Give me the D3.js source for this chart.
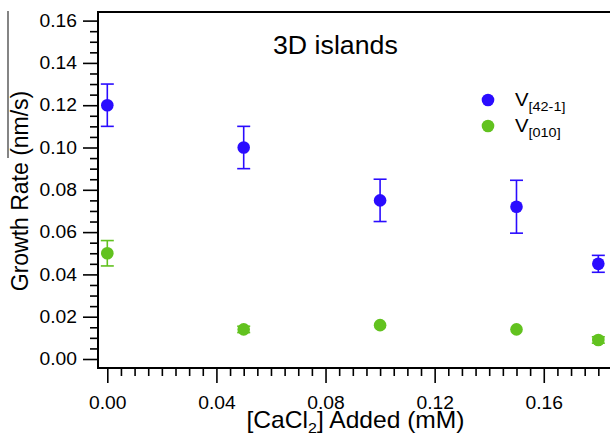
<!DOCTYPE html>
<html>
<head>
<meta charset="utf-8">
<script src="https://cdn.jsdelivr.net/npm/d3@7"></script>
<style>
  body { margin: 0; background: #fff; }
  svg { display: block; }
  text { font-family: "Liberation Sans", Arial, Helvetica, sans-serif; fill: #000; }
</style>
</head>
<body>
<svg id="chart" width="610" height="440"></svg>
<script>
// CaCl2 added (mM)
const concentrations = [0, 0.05, 0.10, 0.15, 0.18];
// growth rate along [42-1] (nm/s) and its error
const rate421 = [0.120, 0.100, 0.075, 0.072, 0.045];
const err421  = [0.010, 0.010, 0.010, 0.0125, 0.004];
// growth rate along [010] (nm/s) and its error
const rate010 = [0.050, 0.014, 0.016, 0.014, 0.009];
const err010  = [0.006, 0.0015, 0, 0, 0.0015];

// axis ticks
const xMajorTicks = [0, 0.04, 0.08, 0.12, 0.16];
const xMinorTicks = d3.range(0, 37).map(i => i * 0.005);
const yMajorTicks = [0, 0.02, 0.04, 0.06, 0.08, 0.10, 0.12, 0.14, 0.16];
const yMinorTicks = d3.range(0, 33).map(i => i * 0.005);

const seriesNames = ["[42-1]", "[010]"];
const colors = ["#2a0cff", "#62c21f"];

const SX = 1.07; // horizontal stretch of the lettering
const svg = d3.select("#chart");
const frame = { left: 98, top: 12, right: 610, bottom: 368 };

const x = d3.scaleLinear().domain([-0.00341, 0.18428]).range([frame.left, frame.right]);
const y = d3.scaleLinear().domain([-0.004255, 0.16407]).range([frame.bottom, frame.top]);

// stray rule at the far left edge
svg.append("line")
  .attr("x1", 8).attr("x2", 8).attr("y1", 11).attr("y2", 158)
  .attr("stroke", "#333").attr("stroke-width", 1.2);

// frame (left, top, bottom)
svg.append("path")
  .attr("d", `M${frame.right},${frame.top}H${frame.left}V${frame.bottom}H${frame.right}`)
  .attr("fill", "none").attr("stroke", "#000").attr("stroke-width", 2);

// y axis
const yMinor = svg.append("g").attr("transform", `translate(${frame.left},0)`)
  .call(d3.axisLeft(y).tickValues(yMinorTicks.filter(v => yMajorTicks.every(m => Math.abs(m - v) > 1e-9)))
        .tickSize(8).tickFormat(""));
const yMajor = svg.append("g").attr("transform", `translate(${frame.left},0)`)
  .call(d3.axisLeft(y).tickValues(yMajorTicks).tickSize(15).tickPadding(6).tickFormat(d3.format(".2f")));

// x axis
const xMinor = svg.append("g").attr("transform", `translate(0,${frame.bottom})`)
  .call(d3.axisBottom(x).tickValues(xMinorTicks.filter(v => xMajorTicks.every(m => Math.abs(m - v) > 1e-9)))
        .tickSize(8).tickFormat(""));
const xMajor = svg.append("g").attr("transform", `translate(0,${frame.bottom})`)
  .call(d3.axisBottom(x).tickValues(xMajorTicks).tickSize(15).tickPadding(13).tickFormat(d3.format(".2f")));

[yMinor, yMajor, xMinor, xMajor].forEach(g => {
  g.select(".domain").remove();
  g.selectAll(".tick line").attr("stroke", "#000").attr("stroke-width", 1.6);
  g.selectAll(".tick text")
    .attr("font-family", "Liberation Sans, Arial, sans-serif")
    .attr("font-size", 18).attr("fill", "#000");
});
yMajor.selectAll(".tick text").attr("x", -21 / SX).attr("transform", `scale(${SX},1)`);
xMajor.selectAll(".tick text").attr("transform", `scale(${SX},1)`);

// error bars and markers
const series = [
  { name: seriesNames[0], values: rate421, errors: err421, color: colors[0] },
  { name: seriesNames[1], values: rate010, errors: err010, color: colors[1] }
];
const capHalf = 6.5;
series.forEach(s => {
  const pts = concentrations.map((c, i) => ({ c, v: s.values[i], e: s.errors[i] }));
  const g = svg.append("g");
  const eb = g.selectAll("g.err").data(pts.filter(d => d.e > 0)).join("g")
    .attr("stroke", s.color).attr("stroke-width", 1.6);
  eb.append("line")
    .attr("x1", d => x(d.c)).attr("x2", d => x(d.c))
    .attr("y1", d => y(d.v - d.e)).attr("y2", d => y(d.v + d.e));
  eb.append("line")
    .attr("x1", d => x(d.c) - capHalf).attr("x2", d => x(d.c) + capHalf)
    .attr("y1", d => y(d.v + d.e)).attr("y2", d => y(d.v + d.e));
  eb.append("line")
    .attr("x1", d => x(d.c) - capHalf).attr("x2", d => x(d.c) + capHalf)
    .attr("y1", d => y(d.v - d.e)).attr("y2", d => y(d.v - d.e));
  g.selectAll("circle").data(pts).join("circle")
    .attr("cx", d => x(d.c)).attr("cy", d => y(d.v))
    .attr("r", 6.3).attr("fill", s.color);
});

// legend
const legend = svg.append("g");
series.forEach((s, i) => {
  const cy = 100 + i * 26;
  legend.append("circle").attr("cx", 488).attr("cy", cy).attr("r", 6.3).attr("fill", s.color);
  const t = legend.append("text")
    .attr("transform", `translate(515,${cy + 6}) scale(${SX},1)`)
    .attr("font-size", 19);
  t.append("tspan").text("V");
  t.append("tspan").attr("font-size", 13.5).attr("dy", 5).text(s.name);
});

// panel title
svg.append("text")
  .attr("transform", `translate(273,54) scale(${SX},1)`)
  .attr("font-size", 25)
  .text("3D islands");

// x axis title
const xt = svg.append("text")
  .attr("transform", `translate(355.5,428) scale(${SX},1)`)
  .attr("text-anchor", "middle")
  .attr("font-size", 23);
xt.append("tspan").text("[CaCl");
xt.append("tspan").attr("font-size", 15).attr("dy", 5).text("2");
xt.append("tspan").attr("dy", -5).text("] Added (mM)");

// y axis title
svg.append("text")
  .attr("transform", `translate(28,191) scale(${SX},1) rotate(-90)`)
  .attr("text-anchor", "middle")
  .attr("font-size", 23)
  .text("Growth Rate (nm/s)");
</script>
</body>
</html>
